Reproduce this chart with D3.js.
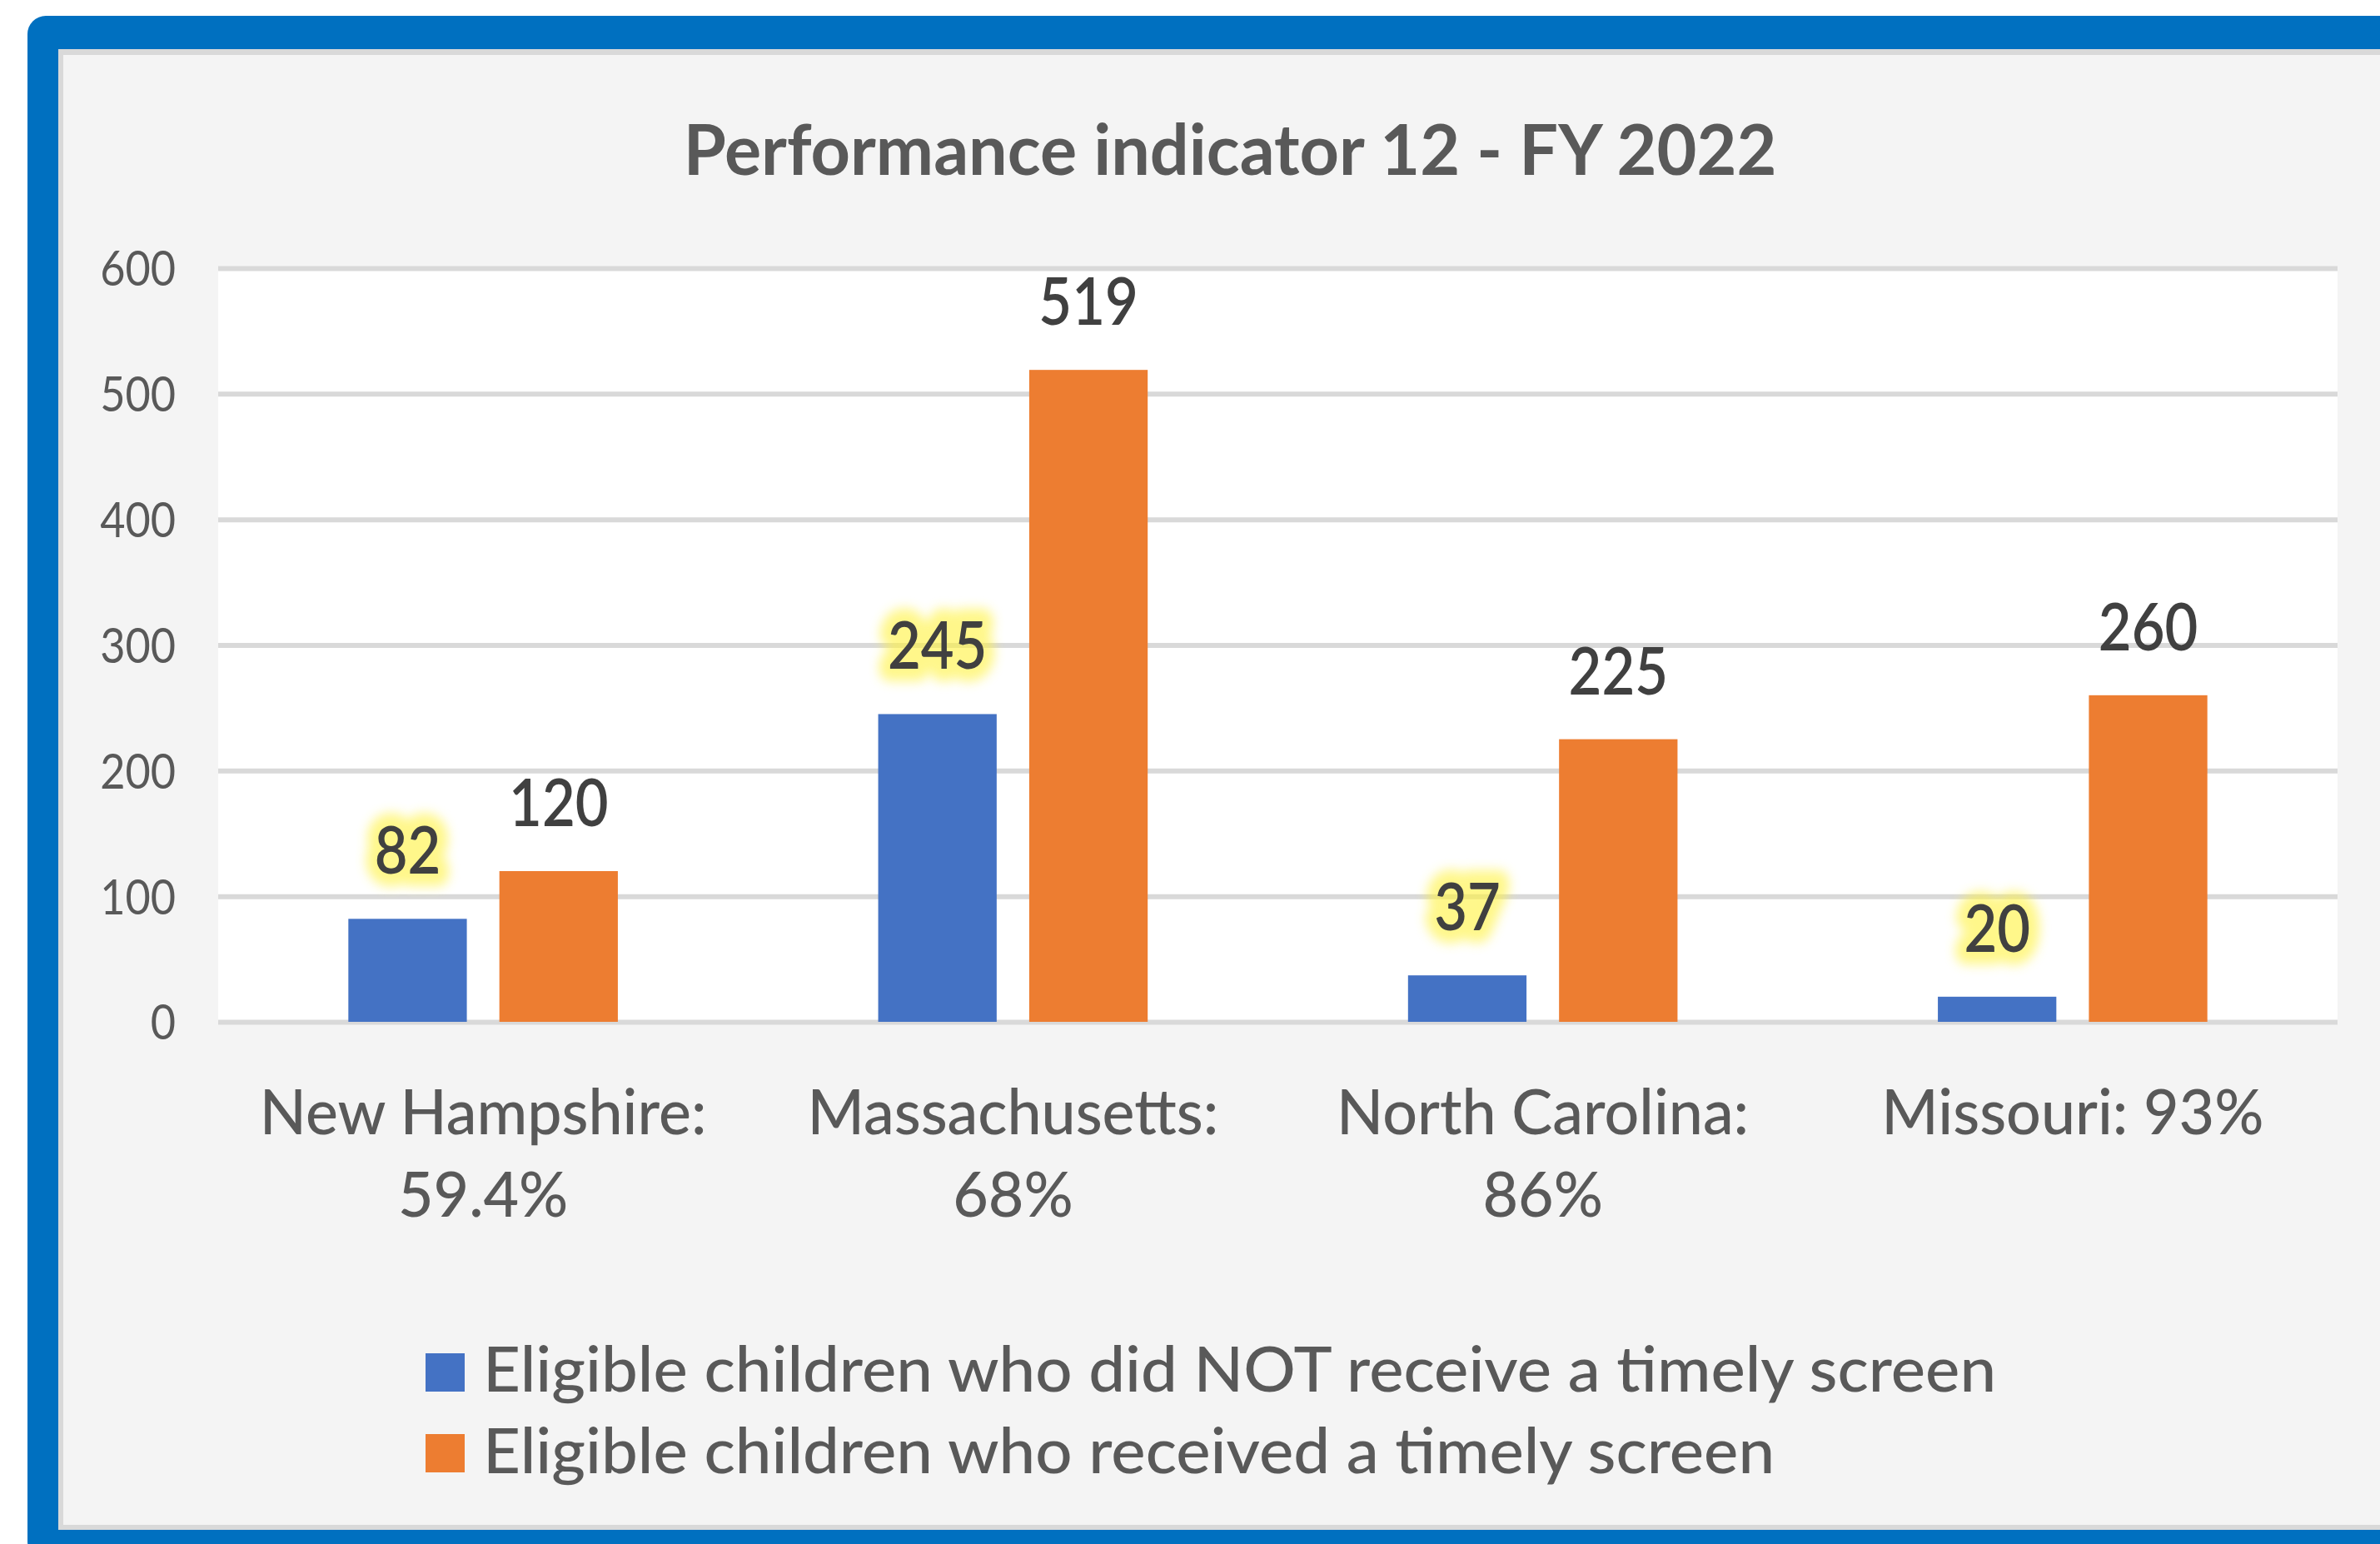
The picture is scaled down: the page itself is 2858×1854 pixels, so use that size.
<!DOCTYPE html>
<html>
<head>
<meta charset="utf-8">
<script src="https://cdn.jsdelivr.net/npm/d3@7"></script>
<style>
    body { margin: 0; background: #ffffff; }
    svg { display: block; }
    text { font-family: Lato, "Open Sans", sans-serif; }
</style>
</head>
<body>
<div id="chart"></div>
<script>
///////////////////////////////////////////////
////////////////////DATA///////////////////////
///////////////////////////////////////////////

var categories = ["New Hampshire: 59.4%", "Massachusetts: 68%", "North Carolina: 86%", "Missouri: 93%"];
var categoryLines = [["New Hampshire:", "59.4%"], ["Massachusetts:", "68%"], ["North Carolina:", "86%"], ["Missouri: 93%"]];
var seriesNames = ["Eligible children who did NOT receive a timely screen", "Eligible children who received a timely screen"];
var notScreened = [82, 245, 37, 20];
var screened = [120, 519, 225, 260];
var yTicks = [0, 100, 200, 300, 400, 500, 600];
var chartTitle = "Performance indicator 12 - FY 2022";

var seriesColors = ["#4472c4", "#ed7d31"];

// rows for the grouped bars
var rows = categories.map(function (c, i) {
    return { cat: c, values: [notScreened[i], screened[i]] };
});

///////////////////////////////////////////////
////////////////////LAYOUT/////////////////////
///////////////////////////////////////////////

var W = 2858, H = 1854;
var plot = { left: 262, right: 2807, top: 322, bottom: 1227 };

// horizontal squeeze per text style, so Lato gets the proportions of the original font
var sxTitle = 0.985, sxTick = 0.9, sxLabel = 0.88, sxCat = 0.98, sxLegend = 1.04;

var svg = d3.select("#chart")
    .append("svg")
    .attr("width", W)
    .attr("height", H);

var defs = svg.append("defs");
defs.append("filter")
    .attr("id", "glow")
    .attr("x", "-50%").attr("y", "-50%")
    .attr("width", "200%").attr("height", "200%")
    .append("feGaussianBlur")
    .attr("stdDeviation", 7);

// Frame: blue rounded border, thin grey edge, light grey chart area
svg.append("rect").attr("x", 33).attr("y", 19).attr("width", W).attr("height", H)
    .attr("rx", 22).style("fill", "#0070c0");
svg.append("rect").attr("x", 70).attr("y", 59).attr("width", W).attr("height", 1837 - 59)
    .style("fill", "#d9d9d9");
svg.append("rect").attr("x", 76).attr("y", 66).attr("width", W).attr("height", 1831 - 66)
    .style("fill", "#f4f4f4");

// plot area background
svg.append("rect")
    .attr("x", plot.left).attr("y", plot.top)
    .attr("width", plot.right - plot.left).attr("height", plot.bottom - plot.top)
    .style("fill", "#ffffff");

// helper: text placed at (x,y) and squeezed horizontally
function squeezedText(parent, x, y, sx) {
    return parent.append("text")
        .attr("transform", "translate(" + x + "," + y + ") scale(" + sx + ",1)");
}

///////////////////////////////////////////////
////////////////////SCALES/////////////////////
///////////////////////////////////////////////

var x0 = d3.scaleBand()
    .domain(categories)
    .range([plot.left, plot.right])
    .padding(0);

var x1 = d3.scaleBand()
    .domain([0, 1])
    .range([0, x0.bandwidth()])
    .paddingInner(0.2155)
    .paddingOuter(0.862);

var yChart = d3.scaleLinear()
    .domain([0, 600])
    .range([plot.bottom, plot.top]);

// gridlines
var grid = svg.append("g")
    .attr("class", "grid")
    .attr("transform", "translate(" + plot.left + ",0)")
    .call(d3.axisLeft(yChart).tickValues(yTicks).tickSize(-(plot.right - plot.left)).tickFormat(""));
grid.select(".domain").remove();
grid.selectAll("line").style("stroke", "#d9d9d9").style("stroke-width", 6);

// y-axis labels
var yAxis = svg.append("g")
    .attr("class", "y axis")
    .attr("transform", "translate(" + plot.left + ",0)")
    .call(d3.axisLeft(yChart).tickValues(yTicks).tickSize(0).tickPadding(51));
yAxis.select(".domain").remove();
yAxis.selectAll("text")
    .style("font-size", "58px")
    .style("fill", "#595959")
    .attr("dy", "0.36em")
    .attr("x", -51 / sxTick)
    .attr("transform", "scale(" + sxTick + ",1)");

///////////////////////////////////////////////
////////////////////BARS///////////////////////
///////////////////////////////////////////////

var groups = svg.selectAll(".group")
    .data(rows)
    .enter()
    .append("g")
    .attr("class", "group")
    .attr("transform", function (d) { return "translate(" + x0(d.cat) + ",0)"; });

groups.selectAll("rect")
    .data(function (d) { return d.values; })
    .enter()
    .append("rect")
    .attr("x", function (d, i) { return x1(i); })
    .attr("y", function (d) { return yChart(d); })
    .attr("width", x1.bandwidth())
    .attr("height", function (d) { return yChart(0) - yChart(d); })
    .style("fill", function (d, i) { return seriesColors[i]; });

// data labels (first series has a yellow glow behind)
groups.each(function (d) {
    var g = d3.select(this);
    d.values.forEach(function (v, i) {
        var cx = x1(i) + x1.bandwidth() / 2;
        var by = yChart(v) - 54;
        if (i === 0) {
            squeezedText(g, cx, by, sxLabel)
                .text(v)
                .attr("text-anchor", "middle")
                .style("font-size", "78px")
                .style("font-weight", 600)
                .style("fill", "#fff23c")
                .style("stroke", "#fff23c")
                .style("stroke-width", 30)
                .style("stroke-linejoin", "round")
                .style("opacity", 0.6)
                .attr("filter", "url(#glow)");
        }
        squeezedText(g, cx, by, sxLabel)
            .text(v)
            .attr("text-anchor", "middle")
            .style("font-size", "78px")
            .style("font-weight", 600)
            .style("fill", "#404040");
    });
});

// category labels
categories.forEach(function (c, i) {
    var cx = x0(c) + x0.bandwidth() / 2;
    categoryLines[i].forEach(function (line, j) {
        squeezedText(svg, cx, 1362 + j * 99, sxCat)
            .text(line)
            .attr("text-anchor", "middle")
            .style("font-size", "75px")
            .style("font-weight", 500)
            .style("fill", "#595959");
    });
});

// title
squeezedText(svg, 1477, 210, sxTitle)
    .text(chartTitle)
    .attr("text-anchor", "middle")
    .style("font-size", "84px")
    .style("font-weight", "bold")
    .style("fill", "#595959");

///////////////////////////////////////////////
////////////////////LEGEND/////////////////////
///////////////////////////////////////////////

var legend = svg.append("g").attr("class", "legend");
seriesNames.forEach(function (name, i) {
    legend.append("rect")
        .attr("x", 511).attr("y", 1625 + i * 97)
        .attr("width", 47).attr("height", 46)
        .style("fill", seriesColors[i]);
    squeezedText(legend, 580, 1671 + i * 98, sxLegend)
        .text(name)
        .style("font-size", "75px")
        .style("font-weight", 500)
        .style("fill", "#595959");
});
</script>
</body>
</html>
